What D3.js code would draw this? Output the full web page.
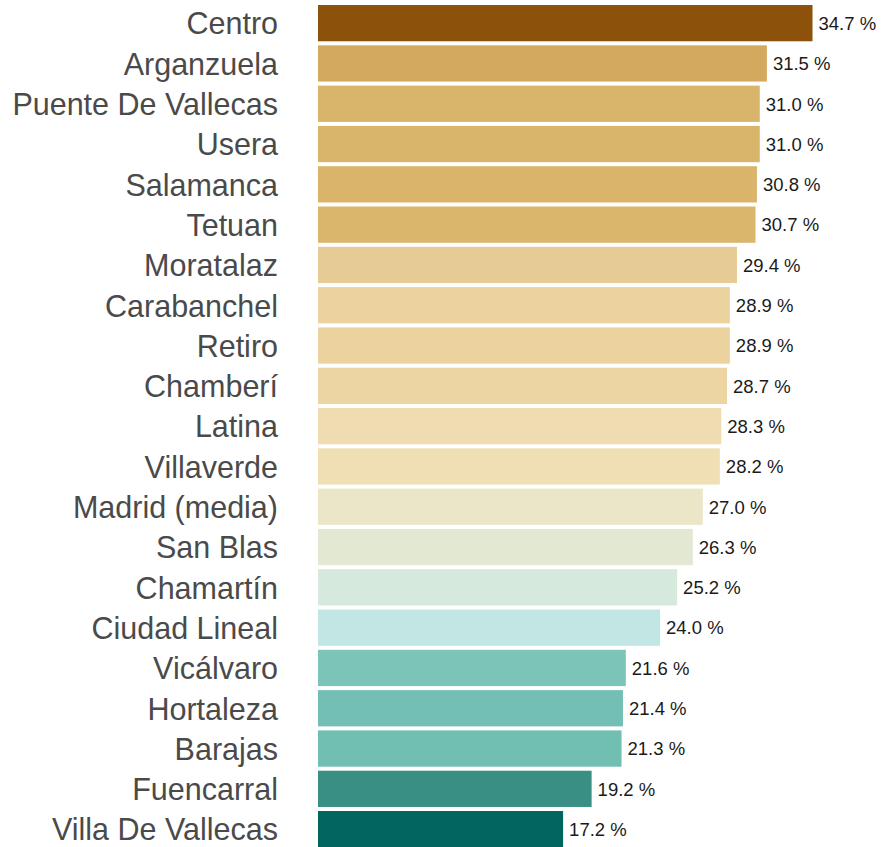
<!DOCTYPE html>
<html><head><meta charset="utf-8">
<script src="https://cdn.jsdelivr.net/npm/d3@7"></script>
<style>body{margin:0;background:#fff}svg{display:block}</style>
</head><body>
<svg id="chart" width="883" height="847"></svg>
<script>
const districts = ["Centro","Arganzuela","Puente De Vallecas","Usera","Salamanca","Tetuan","Moratalaz","Carabanchel","Retiro","Chamberí","Latina","Villaverde","Madrid (media)","San Blas","Chamartín","Ciudad Lineal","Vicálvaro","Hortaleza","Barajas","Fuencarral","Villa De Vallecas"];
const values = [34.7,31.5,31.0,31.0,30.8,30.7,29.4,28.9,28.9,28.7,28.3,28.2,27.0,26.3,25.2,24.0,21.6,21.4,21.3,19.2,17.2];
const colors = ["#8c510a","#d3a95f","#d9b56b","#d9b56b","#d9b46a","#dab66c","#e7cb94","#ebd29e","#ebd29e","#ecd5a3","#efdcb1","#f0dfb5","#ece6c9","#e3e8d3","#d5e9dd","#c2e6e3","#7cc3b8","#74bfb5","#71beb3","#3a8f85","#01665e"];

const svg = d3.select("#chart");
const x = d3.scaleLinear().domain([0, 34.7]).range([318, 812.5]);
const y = d3.scaleBand().domain(districts).range([3, 849.3]).paddingInner(0.1).paddingOuter(0.05);

const rows = districts.map((d,i)=>({name:d, value:values[i], color:colors[i]}));

svg.selectAll("rect.bar").data(rows).join("rect")
  .attr("class","bar")
  .attr("x", x(0))
  .attr("y", d=>y(d.name))
  .attr("width", d=>x(d.value)-x(0))
  .attr("height", y.bandwidth())
  .attr("fill", d=>d.color);

svg.selectAll("text.cat").data(rows).join("text")
  .attr("class","cat")
  .attr("x", 278)
  .attr("y", d=>y(d.name)+y.bandwidth()/2)
  .attr("dy","0.37em")
  .attr("text-anchor","end")
  .attr("font-family","'Liberation Sans', Arial, Helvetica, sans-serif")
  .attr("font-size", 30.5)
  .attr("fill","#4a4a4a")
  .text(d=>d.name);

svg.selectAll("text.val").data(rows).join("text")
  .attr("class","val")
  .attr("x", d=>x(d.value)+6)
  .attr("y", d=>y(d.name)+y.bandwidth()/2)
  .attr("dy","0.37em")
  .attr("font-family","'Liberation Sans', Arial, Helvetica, sans-serif")
  .attr("font-size", 18.5)
  .attr("fill","#1a1a1a")
  .text(d=>d3.format(".1f")(d.value)+" %");
</script>
</body></html>
